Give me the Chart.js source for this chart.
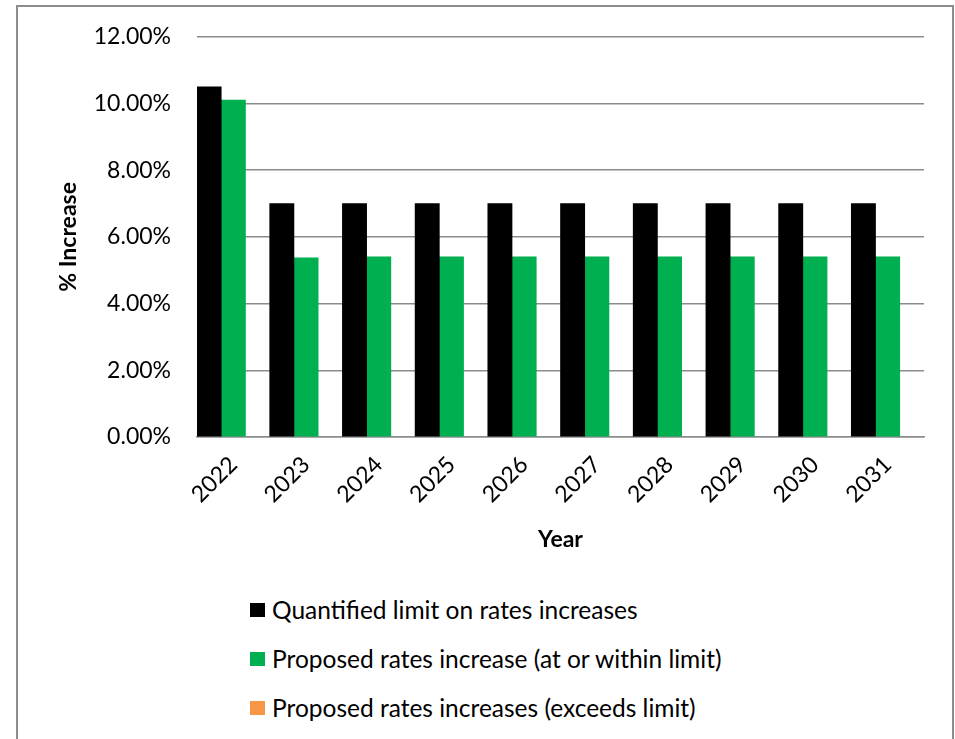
<!DOCTYPE html>
<html>
<head>
<meta charset="utf-8">
<script src="https://cdn.jsdelivr.net/npm/chart.js@4"></script>
<style>
  body { margin: 0; background: #fff; }
  #frame {
    position: absolute; left: 16px; top: 5px;
    width: 938px; height: 780px;
    border: 2px solid #8c8c8c; box-sizing: border-box;
  }
  #wrap { position: absolute; left: 0; top: -10px; width: 934px; height: 570px; }
  #legend {
    position: absolute; left: 232px; top: 578px;
    font-family: Lato, sans-serif; font-size: 24.5px; color: #000;
  }
  .item { display: flex; align-items: center; height: 49px; }
  .box { width: 15px; height: 14px; margin-right: 7px; }
</style>
</head>
<body>
<div id="frame">
  <div id="wrap"><canvas id="barChart"></canvas></div>
  <div id="legend"></div>
</div>
<script>
const YEARS = ['2022', '2023', '2024', '2025', '2026', '2027', '2028', '2029', '2030', '2031'];
const LIMIT = [10.5, 7, 7, 7, 7, 7, 7, 7, 7, 7];
const WITHIN = [10.1, 5.37, 5.4, 5.4, 5.4, 5.4, 5.4, 5.4, 5.4, 5.4];
const EXCEEDS = [null, null, null, null, null, null, null, null, null, null];
const Y_TICKS = [0, 2, 4, 6, 8, 10, 12];

const FONT = 'Lato';

const CHART = document.getElementById('barChart');

let barChart = new Chart(CHART, {
    type: 'bar',
    data: {
        labels: YEARS,
        datasets: [
            { label: 'Quantified limit on rates increases', backgroundColor: '#000000', data: LIMIT },
            { label: 'Proposed rates increase (at or within limit)', backgroundColor: '#00b050', data: WITHIN },
            { label: 'Proposed rates increases (exceeds limit)', backgroundColor: '#f79646', data: EXCEEDS }
        ]
    },
    options: {
        responsive: true,
        maintainAspectRatio: false,
        animation: false,
        layout: { padding: { left: 33, right: 28, top: 22, bottom: 10 } },
        datasets: { bar: { categoryPercentage: 1, barPercentage: 1 } },
        plugins: { legend: { display: false }, tooltip: { enabled: false } },
        scales: {
            y: {
                min: 0, max: 12,
                afterBuildTicks: s => { s.ticks = Y_TICKS.map(v => ({ value: v })); },
                afterFit: s => { s.width = 146; },
                ticks: {
                    callback: v => v.toFixed(2) + '%',
                    color: '#000', padding: 26,
                    font: { family: FONT, size: 23 }
                },
                grid: { color: '#8c8c8c', lineWidth: 1.5, drawTicks: false },
                border: { display: false },
                title: {
                    display: true, text: '% Increase', color: '#000',
                    font: { family: FONT, size: 23, weight: 'bold' }
                }
            },
            x: {
                afterFit: s => { s.height = 120; },
                ticks: {
                    minRotation: 45, maxRotation: 45, color: '#000', padding: 6,
                    font: { family: FONT, size: 23 }
                },
                grid: { display: false },
                border: { color: '#8c8c8c', width: 1.5 },
                title: {
                    display: true, text: 'Year', color: '#000',
                    font: { family: FONT, size: 23, weight: 'bold' }
                }
            }
        }
    }
});

// legend, one entry per row, built from the datasets
const legendEl = document.getElementById('legend');
barChart.data.datasets.forEach(ds => {
    const row = document.createElement('div');
    row.className = 'item';
    const box = document.createElement('span');
    box.className = 'box';
    box.style.background = ds.backgroundColor;
    const txt = document.createElement('span');
    txt.textContent = ds.label;
    row.appendChild(box);
    row.appendChild(txt);
    legendEl.appendChild(row);
});
</script>
</body>
</html>
